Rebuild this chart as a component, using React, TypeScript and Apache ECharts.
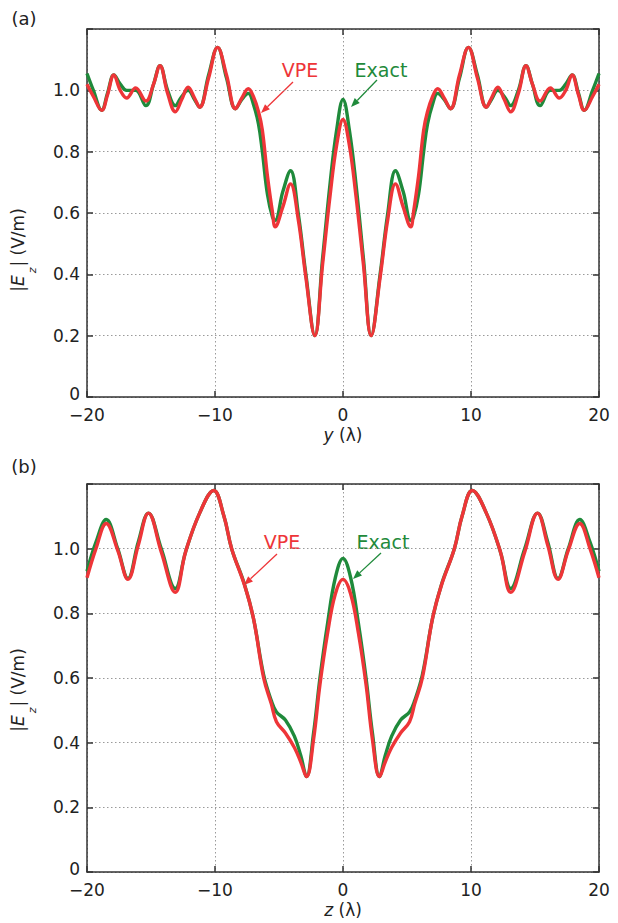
import React, { useEffect, useRef } from "react";
import * as echarts from "echarts";

// ---------- data ----------
const xA = [-20, -19.5, -18.85, -18.4, -17.9, -17.4, -16.9, -16.2, -15.4, -14.8, -14.3, -13.7, -13.1, -12.6, -12.1, -11.6, -11.2, -10.5, -9.8, -9.1, -8.4, -7.9, -7.4, -7.0, -6.6, -6.3, -5.9, -5.5, -5.3, -4.7, -4.1, -3.5, -2.9, -2.2, -1.6, -1.0, -0.5, 0, 0.5, 1.0, 1.6, 2.2, 2.9, 3.5, 4.1, 4.7, 5.3, 5.5, 5.9, 6.3, 6.6, 7.0, 7.4, 7.9, 8.4, 9.1, 9.8, 10.5, 11.2, 11.6, 12.1, 12.6, 13.1, 13.7, 14.3, 14.8, 15.4, 16.2, 16.9, 17.4, 17.9, 18.4, 18.85, 19.5, 20];
const exactA = [1.055, 1.0, 0.935, 0.99, 1.05, 1.02, 1.0, 1.0, 0.95, 1.02, 1.08, 1.0, 0.95, 0.98, 1.0, 0.97, 0.945, 1.05, 1.14, 1.04, 0.94, 0.97, 0.99, 0.955, 0.89, 0.8, 0.66, 0.585, 0.576, 0.67, 0.738, 0.6, 0.4, 0.2, 0.45, 0.7, 0.87, 0.97, 0.87, 0.7, 0.45, 0.2, 0.4, 0.6, 0.738, 0.67, 0.576, 0.585, 0.66, 0.8, 0.89, 0.955, 0.99, 0.97, 0.94, 1.04, 1.14, 1.05, 0.945, 0.97, 1.0, 0.98, 0.95, 1.0, 1.08, 1.02, 0.95, 1.0, 1.0, 1.02, 1.05, 0.99, 0.935, 1.0, 1.055];
const vpeA = [1.02, 0.98, 0.935, 0.985, 1.05, 1.0, 0.975, 1.008, 0.965, 1.02, 1.08, 0.99, 0.93, 0.97, 1.01, 0.975, 0.945, 1.04, 1.14, 1.05, 0.94, 0.975, 1.005, 0.98, 0.93, 0.87, 0.72, 0.6, 0.555, 0.62, 0.695, 0.58, 0.39, 0.2, 0.43, 0.66, 0.82, 0.905, 0.82, 0.66, 0.43, 0.2, 0.39, 0.58, 0.695, 0.62, 0.555, 0.6, 0.72, 0.87, 0.93, 0.98, 1.005, 0.975, 0.94, 1.05, 1.14, 1.04, 0.945, 0.975, 1.01, 0.97, 0.93, 0.99, 1.08, 1.02, 0.965, 1.008, 0.975, 1.0, 1.05, 0.985, 0.935, 0.98, 1.02];

const xB = [-20, -19.3, -18.5, -17.6, -16.8, -16.0, -15.2, -14.2, -13.1, -12.3, -11.2, -10.1, -9.3, -8.7, -7.7, -7.0, -6.2, -5.6, -5.2, -4.5, -3.8, -3.3, -2.85, -2.3, -1.8, -1.2, -0.6, 0, 0.6, 1.2, 1.8, 2.3, 2.85, 3.3, 3.8, 4.5, 5.2, 5.6, 6.2, 7.0, 7.7, 8.7, 9.3, 10.1, 11.2, 12.3, 13.1, 14.2, 15.2, 16.0, 16.8, 17.6, 18.5, 19.3, 20];
const exactB = [0.93, 1.02, 1.09, 1.0, 0.908, 1.02, 1.11, 1.0, 0.877, 0.99, 1.11, 1.18, 1.1, 1.0, 0.89, 0.785, 0.61, 0.53, 0.495, 0.47, 0.42, 0.36, 0.295, 0.43, 0.6, 0.77, 0.91, 0.97, 0.91, 0.77, 0.6, 0.43, 0.295, 0.36, 0.42, 0.47, 0.495, 0.53, 0.61, 0.785, 0.89, 1.0, 1.1, 1.18, 1.11, 0.99, 0.877, 1.0, 1.11, 1.02, 0.908, 1.0, 1.09, 1.02, 0.93];
const vpeB = [0.91, 1.0, 1.078, 0.995, 0.905, 1.01, 1.11, 0.99, 0.865, 0.99, 1.11, 1.18, 1.1, 1.0, 0.888, 0.785, 0.6, 0.52, 0.465, 0.43, 0.385, 0.34, 0.295, 0.41, 0.58, 0.74, 0.86, 0.905, 0.86, 0.74, 0.58, 0.41, 0.295, 0.34, 0.385, 0.43, 0.465, 0.52, 0.6, 0.785, 0.888, 1.0, 1.1, 1.18, 1.11, 0.99, 0.865, 0.99, 1.11, 1.01, 0.905, 0.995, 1.078, 1.0, 0.91];

const xRange = [-20, 20];
const yRange = [0, 1.2];
const panelLabels = ["(a)", "(b)"];
const xNames = ["y", "z"];
const seriesNames = ["Exact", "VPE"];

// ---------- style ----------
const FONT = "DejaVu Sans";
const GREEN = "#1f8a3b";
const RED = "#ee3538";
const INK = "#222";

const pairs = (xs: number[], ys: number[]) => xs.map((x, i) => [x, ys[i]]);

const fmtX = (v: number) => (v < 0 ? "\u2212" + Math.abs(v) : String(v));
const fmtY = (v: number) => (v === 0 ? "{z|0}" : v > 1.15 ? "" : v.toFixed(1));

function arrow(x1: number, y1: number, x2: number, y2: number, color: string) {
  const dx = x2 - x1, dy = y2 - y1;
  const L = Math.hypot(dx, dy);
  const ux = dx / L, uy = dy / L;
  const hl = 9, hw = 3.5;
  const bx = x2 - ux * hl, by = y2 - uy * hl;
  return [
    { type: "line", shape: { x1, y1, x2: bx, y2: by }, style: { stroke: color, lineWidth: 1.3 } },
    {
      type: "polygon",
      shape: { points: [[x2, y2], [bx - uy * hw, by + ux * hw], [bx + uy * hw, by - ux * hw]] },
      style: { fill: color },
    },
  ];
}

export default function App() {
  const ref = useRef<HTMLDivElement>(null);
  useEffect(() => {
    if (!ref.current) return;
    const chart = echarts.init(ref.current, undefined, { renderer: "svg" });
    const grids = [
      { left: 87, top: 29, width: 512, height: 368 },
      { left: 87, top: 484, width: 512, height: 388 },
    ];
    const axisLine = { show: true, onZero: false, lineStyle: { color: "#333", width: 1.5 } };
    const axisTick = { show: true, inside: true, length: 6, lineStyle: { color: "#333", width: 1.5 } };
    const splitLine = { show: true, lineStyle: { color: "#9a9a9a", type: [1.5, 2.5] as any, width: 1 } };
    const xAxis: any[] = [];
    const yAxis: any[] = [];
    grids.forEach((_, g) => {
      xAxis.push({
        type: "value", gridIndex: g, min: xRange[0], max: xRange[1], interval: 10, position: "bottom",
        axisLine, axisTick, splitLine,
        axisLabel: { formatter: fmtX, fontSize: 17, fontFamily: FONT, color: INK, margin: 11, lineHeight: 14 },
        name: `{i|${xNames[g]}} (\u03bb)`, nameLocation: "middle", nameGap: 29,
        nameTextStyle: { fontSize: 17, fontFamily: FONT, color: INK, rich: { i: { fontStyle: "italic", fontSize: 17, fontFamily: FONT, color: INK } } },
      });
      xAxis.push({
        type: "value", gridIndex: g, min: xRange[0], max: xRange[1], interval: 10, position: "top",
        axisLine, axisTick, splitLine: { show: false }, axisLabel: { show: false },
      });
      yAxis.push({
        type: "value", gridIndex: g, min: yRange[0], max: yRange[1], interval: 0.2, position: "left",
        axisLine, axisTick, splitLine,
        axisLabel: {
          formatter: fmtY, fontSize: 17, fontFamily: FONT, color: INK, margin: 7, lineHeight: 13,
          rich: { z: { fontSize: 17, fontFamily: FONT, color: INK, lineHeight: 13, padding: [0, 0, 7, 0] } },
        },
      });
      yAxis.push({
        type: "value", gridIndex: g, min: yRange[0], max: yRange[1], interval: 0.2, position: "right",
        axisLine, axisTick, splitLine: { show: false }, axisLabel: { show: false },
      });
    });
    const mk = (g: number, name: string, xs: number[], ys: number[], color: string) => ({
      type: "line", name, xAxisIndex: g * 2, yAxisIndex: g * 2, data: pairs(xs, ys),
      smooth: 0.4, symbol: "none", lineStyle: { color, width: 3.4 }, z: 3,
    });
    const yTitle = (cy: number) => ({
      type: "text", x: 19, y: cy, rotation: Math.PI / 2,
      style: {
        text: "{n||}{i|E}{s|z}{n|| (V/m)}",
        align: "center", verticalAlign: "middle", fill: INK,
        rich: {
          n: { fontSize: 17, fontFamily: FONT, fill: INK, lineHeight: 20, verticalAlign: "top" },
          i: { fontSize: 17, fontFamily: FONT, fontStyle: "italic", fill: INK, lineHeight: 20, verticalAlign: "top" },
          s: { fontSize: 11, fontFamily: FONT, fontStyle: "italic", fill: INK, lineHeight: 11, padding: [18, 1, 0, 2], verticalAlign: "top" },
        },
      },
    });
    const txt = (x: number, y: number, text: string, color: string, size = 19) => ({
      type: "text", x, y, style: { text, fill: color, fontSize: size, fontFamily: FONT, align: "center", verticalAlign: "middle" },
    });
    chart.setOption({
      animation: false,
      backgroundColor: "#fff",
      grid: grids,
      xAxis, yAxis,
      series: [
        mk(0, seriesNames[0], xA, exactA, GREEN),
        mk(0, seriesNames[1], xA, vpeA, RED),
        mk(1, seriesNames[0], xB, exactB, GREEN),
        mk(1, seriesNames[1], xB, vpeB, RED),
      ],
      graphic: [
        txt(24, 18, panelLabels[0], INK, 18),
        txt(24, 466, panelLabels[1], INK, 18),
        yTitle(250),
        yTitle(690),
        txt(300, 70, seriesNames[1], RED),
        txt(381, 70, seriesNames[0], GREEN),
        ...arrow(293, 82, 261, 113, RED),
        ...arrow(377, 80, 351, 107, GREEN),
        txt(282, 542, seriesNames[1], RED),
        txt(383, 542, seriesNames[0], GREEN),
        ...arrow(277, 554, 244, 585, RED),
        ...arrow(381, 553, 353, 579, GREEN),
      ],
    });
    return () => chart.dispose();
  }, []);
  return <div ref={ref} style={{ position: "fixed", left: 0, top: 0, width: 618, height: 923 }} />;
}
